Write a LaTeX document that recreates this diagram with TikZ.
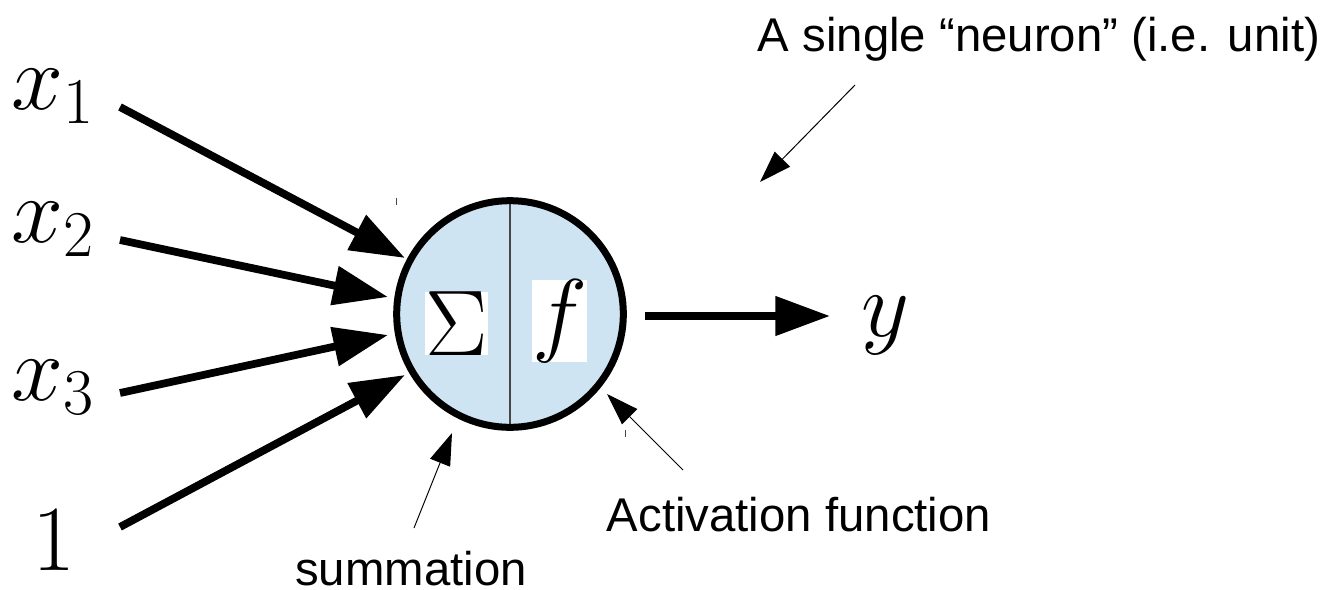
\RequirePackage{fix-cm}
\documentclass[tikz,border=0pt]{standalone}
\usepackage[no-math]{fontspec}
\newfontfamily\labelfont{Liberation Sans}
\usetikzlibrary{arrows.meta}
\definecolor{neuronblue}{RGB}{207,228,242}
\definecolor{dividergray}{RGB}{70,70,70}
\tikzset{
  mathlabel/.style={inner sep=0pt, anchor=base west, font=\fontsize{70}{80}\selectfont},
  symbox/.style={inner sep=0pt, fill=white, font=\fontsize{70}{80}\selectfont},
  textlabel/.style={inner sep=0pt, anchor=base, font=\labelfont\fontsize{35.5}{40}\selectfont},
  thickarrow/.style={line width=5.8pt, -{Triangle[length=41pt,width=28.5pt]}},
  thinarrow/.style={line width=0.75pt, -{Triangle[length=24pt,width=16pt]}},
  tick/.style={line width=0.75pt, draw=dividergray}
}
\begin{document}
\begin{tikzpicture}[x=0.75pt,y=-0.75pt]
\useasboundingbox (0,0) rectangle (1326,589);
% neuron
\node[circle, fill=neuronblue, minimum size=170pt, inner sep=0pt] (neuron) at (510,314) {};
\draw[line width=0.9pt, dividergray] (neuron.north) -- (neuron.south);
\node[circle, draw=black, line width=5.25pt, minimum size=170pt, inner sep=0pt] (rim) at (neuron.center) {};
\node[symbox] (sigma) at (456.5,323.5) {$\Sigma$};
\node[symbox] (func) at (559.5,321) {$f$};
% input labels
\node[mathlabel] (x1) at (11,109) {$x_1$};
\node[mathlabel] (x2) at (11,242) {$x_2$};
\node[mathlabel] (x3) at (11,400) {$x_3$};
\node[mathlabel] (one) at (32,570) {$1$};
\node[mathlabel] (y) at (861,336) {$y$};
% arrow end points
\coordinate (s1) at (120,107); \coordinate (t1) at (405,258);
\coordinate (s2) at (120,240); \coordinate (t2) at (388,297);
\coordinate (s3) at (120,393); \coordinate (t3) at (388,335);
\coordinate (s4) at (120,527); \coordinate (t4) at (405,375);
\coordinate (so) at (645,316); \coordinate (to) at (830,316);
\draw[thickarrow] (s1) -- (t1);
\draw[thickarrow] (s2) -- (t2);
\draw[thickarrow] (s3) -- (t3);
\draw[thickarrow] (s4) -- (t4);
\draw[thickarrow] (so) -- (to);
% annotations
\node[textlabel] (unitlbl) at (1039,51) {A single “neuron” (i.e. unit)};
\node[textlabel] (actlbl) at (799,531) {Activation function};
\node[textlabel] (sumlbl) at (411,585) {summation};
\coordinate (ua) at (855,85); \coordinate (ub) at (760,182);
\coordinate (aa) at (683,470); \coordinate (ab) at (607,394);
\coordinate (sa) at (414,528); \coordinate (sb) at (452,433);
\draw[thinarrow] (ua) -- (ub);
\draw[thinarrow] (aa) -- (ab);
\draw[thinarrow] (sa) -- (sb);
% stray ticks
\coordinate (k1) at (396,198); \coordinate (k2) at (396,205);
\coordinate (k3) at (625,430); \coordinate (k4) at (625,437);
\draw[tick] (k1) -- (k2);
\draw[tick] (k3) -- (k4);
\end{tikzpicture}
\end{document}
